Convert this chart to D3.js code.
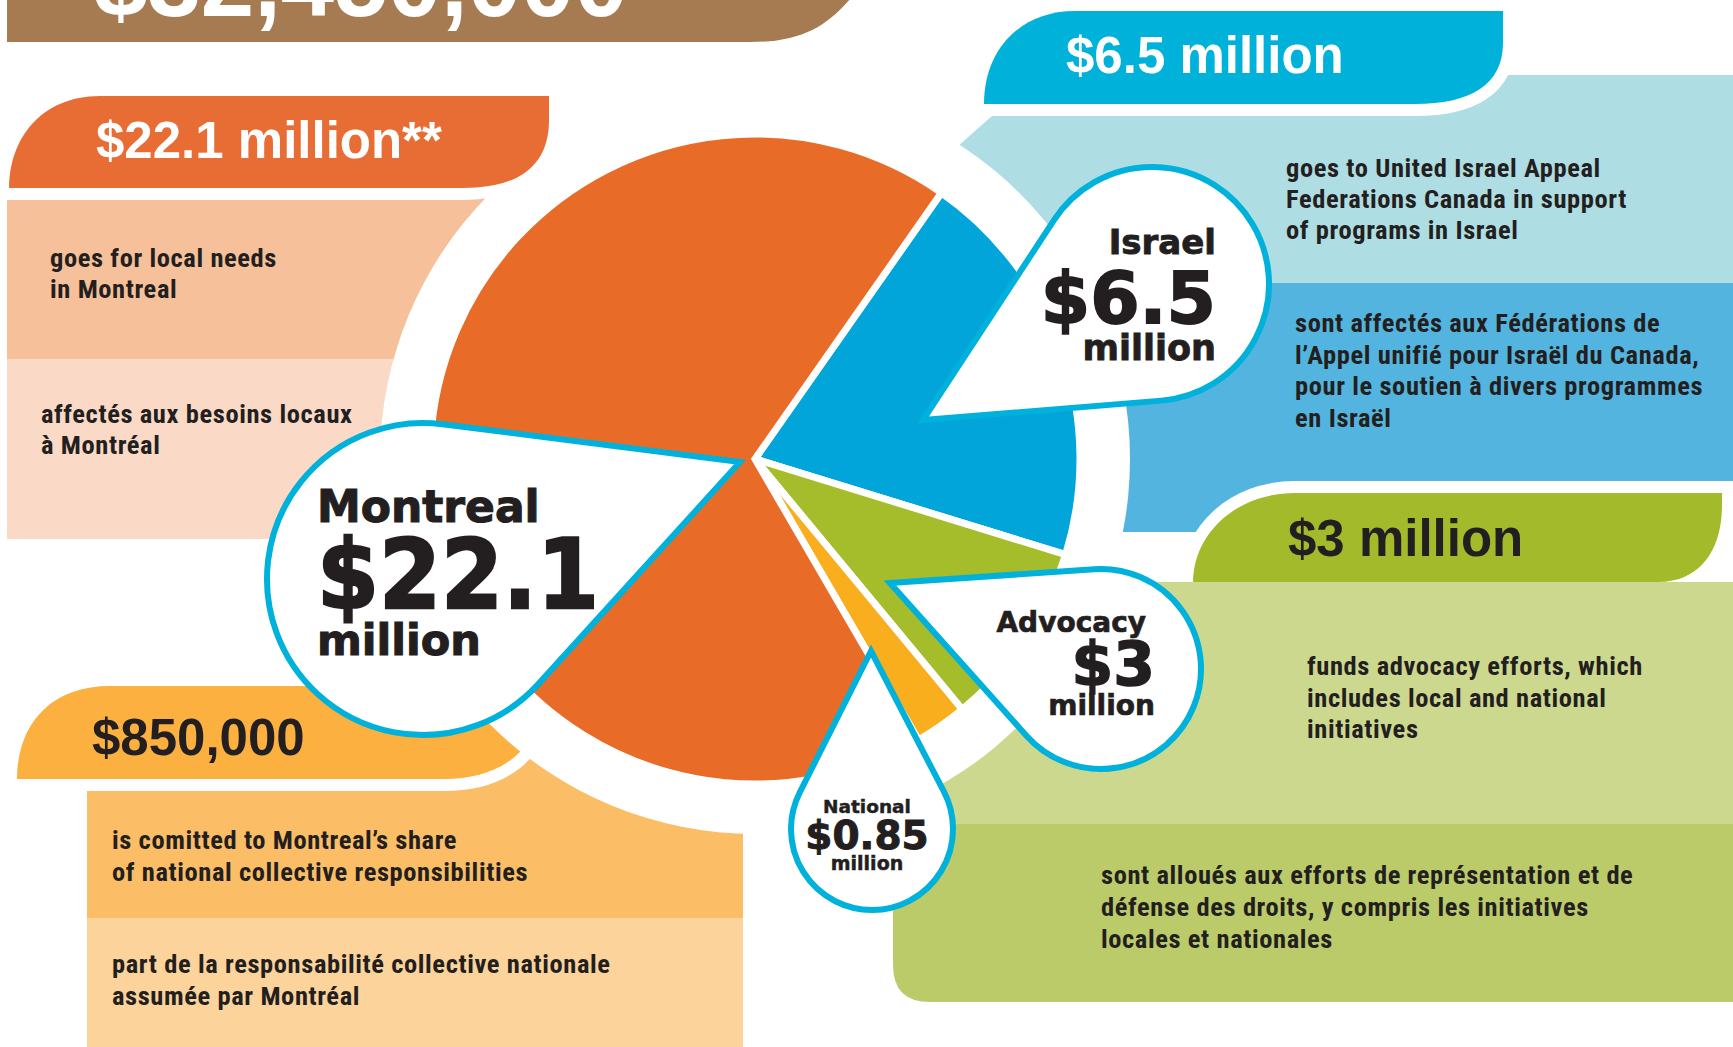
<!DOCTYPE html>
<html>
<head>
<meta charset="utf-8">
<script src="https://cdn.jsdelivr.net/npm/d3@7"></script>
<style>
  html, body { margin: 0; padding: 0; background: #fff; overflow: hidden; }
  .body-text { font-family: "Liberation Sans Narrow", "Roboto Condensed", "Liberation Sans", sans-serif; font-weight: bold; font-size: 26.5px; letter-spacing: 0.6px; fill: #231f20; }
  .banner-text { font-family: "Liberation Sans", Arial, sans-serif; font-weight: bold; font-size: 51px; }
  .bubble-text { font-family: "DejaVu Sans", sans-serif; font-weight: bold; fill: #231f20; stroke: #231f20; }
</style>
</head>
<body>
<div class="svg-container"></div>
<script>
// ---- data ----
const totalLabel = "$32,450,000";
const sliceNames = ["Israel", "Advocacy", "National", "Montreal"];
const sliceValues = [6.5, 3, 0.85, 22.1];   // millions
const sliceColors = ["#02a5d9", "#a5bc2b", "#f8ae1d", "#e86c28"];
const bubbleAmounts = ["$6.5", "$3", "$0.85", "$22.1"];
const bannerLabels = ["$6.5 million", "$3 million", "$850,000", "$22.1 million**"];
const englishText = [
  ["goes to United Israel Appeal", "Federations Canada in support", "of programs in Israel"],
  ["funds advocacy efforts, which", "includes local and national", "initiatives"],
  ["is comitted to Montreal\u2019s share", "of national collective responsibilities"],
  ["goes for local needs", "in Montreal"]
];
const frenchText = [
  ["sont affect\u00e9s aux F\u00e9d\u00e9rations de", "l\u2019Appel unifi\u00e9 pour Isra\u00ebl du Canada,", "pour le soutien \u00e0 divers programmes", "en Isra\u00ebl"],
  ["sont allou\u00e9s aux efforts de repr\u00e9sentation et de", "d\u00e9fense des droits, y compris les initiatives", "locales et nationales"],
  ["part de la responsabilit\u00e9 collective nationale", "assum\u00e9e par Montr\u00e9al"],
  ["affect\u00e9s aux besoins locaux", "\u00e0 Montr\u00e9al"]
];

const width = 1733, height = 1047;
const cx = 755, cy = 459;
const pieRadius = 325, ringRadius = 375;
const cyan = "#00b1db", ink = "#231f20";

var svg = d3.select(".svg-container").append("svg")
  .attr("width", width)
  .attr("height", height);

function addLines(x, y0, lineGap, lines) {
  var t = svg.append("text").attr("class", "body-text");
  lines.forEach(function(line, i) {
    t.append("tspan").attr("x", x).attr("y", y0 + i * lineGap).text(line);
  });
}

function addBanner(b, label) {
  svg.append("path").attr("d", b.d)
    .attr("fill", b.fill)
    .attr("stroke", "#fff").attr("stroke-width", 24)
    .style("paint-order", "stroke");
  svg.append("text").attr("class", "banner-text")
    .attr("x", b.x).attr("y", b.y)
    .attr("fill", b.color)
    .text(label);
}

// ---- background panels ----
svg.append("polygon")
  .attr("points", "992,116 1300,116 1300,75 1733,75 1733,283 900,283 900,200 958,146")
  .attr("fill", "#aedde3");
svg.append("polygon")
  .attr("points", "1000,283 1733,283 1733,482 1300,482 1300,532 1000,532")
  .attr("fill", "#53b5df");
svg.append("rect").attr("x", 7).attr("y", 195).attr("width", 720).attr("height", 164).attr("fill", "#f6c19a");
svg.append("rect").attr("x", 7).attr("y", 359).attr("width", 720).attr("height", 180).attr("fill", "#fadac6");
svg.append("rect").attr("x", 87).attr("y", 740).attr("width", 656).attr("height", 178).attr("fill", "#fbbe66");
svg.append("rect").attr("x", 87).attr("y", 918).attr("width", 656).attr("height", 129).attr("fill", "#fcd49b");

// ---- banners (white outline drawn under the fill) ----
var banners = [
  {d: "M984,104 C984,50 1020,11 1075,11 H1503 V43 C1503,85 1470,104 1415,104 Z", fill: "#00b2da", x: 1066, y: 73, color: "#fff"},
  {d: "M1193,582 C1193,535 1235,493 1295,493 H1722 V505 C1722,550 1700,582 1658,582 Z", fill: "#a3bb2a", x: 1288, y: 556, color: ink},
  {d: "M17,779 C17,725 50,686 110,686 H540 V700 C540,750 500,779 444,779 Z", fill: "#fbb040", x: 92, y: 755, color: ink}
];
banners.forEach(function(b, i) { addBanner(b, bannerLabels[i]); });

svg.append("rect").attr("x", 893).attr("y", 582).attr("width", 840).attr("height", 242).attr("fill", "#cdd88f");
svg.append("path").attr("d", "M893,824 H1733 V1002 H930 Q893,1002 893,965 Z").attr("fill", "#bccb6a");

// white ring around the pie
svg.append("circle").attr("cx", cx).attr("cy", cy).attr("r", ringRadius).attr("fill", "#fff");

// the Montreal banner sits over the ring
addBanner({d: "M9,188 C9,140 40,96 100,96 H549 V120 C549,165 520,188 463,188 Z", fill: "#e86d35", x: 96, y: 158, color: "#fff"}, bannerLabels[3]);

// ---- descriptions ----
addLines(1286, 177, 31, englishText[0]);
addLines(1295, 332, 31.7, frenchText[0]);
addLines(1307, 675, 31.5, englishText[1]);
addLines(1101, 884, 32, frenchText[1]);
addLines(112, 849, 32, englishText[2]);
addLines(112, 973, 31.5, frenchText[2]);
addLines(50, 267, 31, englishText[3]);
addLines(41, 423, 31, frenchText[3]);

// ---- title banner ----
svg.append("path")
  .attr("d", "M7,-2 H851 C825,28 800,42 750,42 H7 Z")
  .attr("fill", "#a67b51");
svg.append("text").attr("class", "banner-text")
  .attr("x", 94).attr("y", 16)
  .attr("fill", "#fff")
  .style("font-size", "96px")
  .text(totalLabel);

// ---- pie ----
var pie = d3.pie().sort(null)
  .startAngle(35 * Math.PI / 180)
  .endAngle(395 * Math.PI / 180)
  .value(function(d) { return d; });
var arc = d3.arc().innerRadius(0).outerRadius(pieRadius);

svg.append("g")
  .attr("transform", "translate(" + cx + "," + cy + ")")
  .selectAll("path")
  .data(pie(sliceValues))
  .join("path")
  .attr("d", arc)
  .attr("fill", function(d, i) { return sliceColors[i]; })
  .attr("stroke", "#fff")
  .attr("stroke-width", 7)
  .attr("stroke-linejoin", "miter");

// ---- teardrop callouts ----
function dropPath(c, r, tip) {
  var dx = tip[0] - c[0], dy = tip[1] - c[1];
  var d = Math.hypot(dx, dy);
  var th = Math.atan2(dy, dx), a = Math.acos(r / d);
  var p1 = [c[0] + r * Math.cos(th + a), c[1] + r * Math.sin(th + a)];
  var p2 = [c[0] + r * Math.cos(th - a), c[1] + r * Math.sin(th - a)];
  return "M" + tip + "L" + p1 + "A" + r + "," + r + " 0 1 1 " + p2 + "Z";
}

var bubbles = [
  {c: [1152, 284], r: 117, tip: [923, 420], anchor: "end", x: 1216,
   rows: [{y: 254, s: 34}, {y: 323, s: 71}, {y: 360, s: 35}]},
  {c: [1101, 669], r: 100, tip: [890, 583], anchor: "end", x: 1155,
   rows: [{y: 632, s: 28, dx: -9}, {y: 685, s: 60}, {y: 715, s: 28}]},
  {c: [872, 829], r: 81, tip: [871, 651], anchor: "middle", x: 867,
   rows: [{y: 813, s: 18.5}, {y: 849, s: 39}, {y: 870, s: 19}]},
  {c: [423, 579], r: 156, tip: [740, 462], anchor: "start", x: 317,
   rows: [{y: 522, s: 44}, {y: 608, s: 96, len: 282}, {y: 655, s: 43}]}
];

bubbles.forEach(function(b, i) {
  svg.append("path")
    .attr("d", dropPath(b.c, b.r, b.tip))
    .attr("fill", "#fff")
    .attr("stroke", cyan)
    .attr("stroke-width", 6)
    .attr("stroke-linejoin", "miter");
  var words = [sliceNames[i], bubbleAmounts[i], "million"];
  b.rows.forEach(function(row, j) {
    var t = svg.append("text").attr("class", "bubble-text")
      .attr("x", b.x + (row.dx || 0)).attr("y", row.y)
      .attr("text-anchor", b.anchor)
      .style("font-size", row.s + "px")
      .style("stroke-width", (row.s * 0.025) + "px")
      .text(words[j]);
    if (row.len) t.attr("textLength", row.len).attr("lengthAdjust", "spacingAndGlyphs");
  });
});
</script>
</body>
</html>
